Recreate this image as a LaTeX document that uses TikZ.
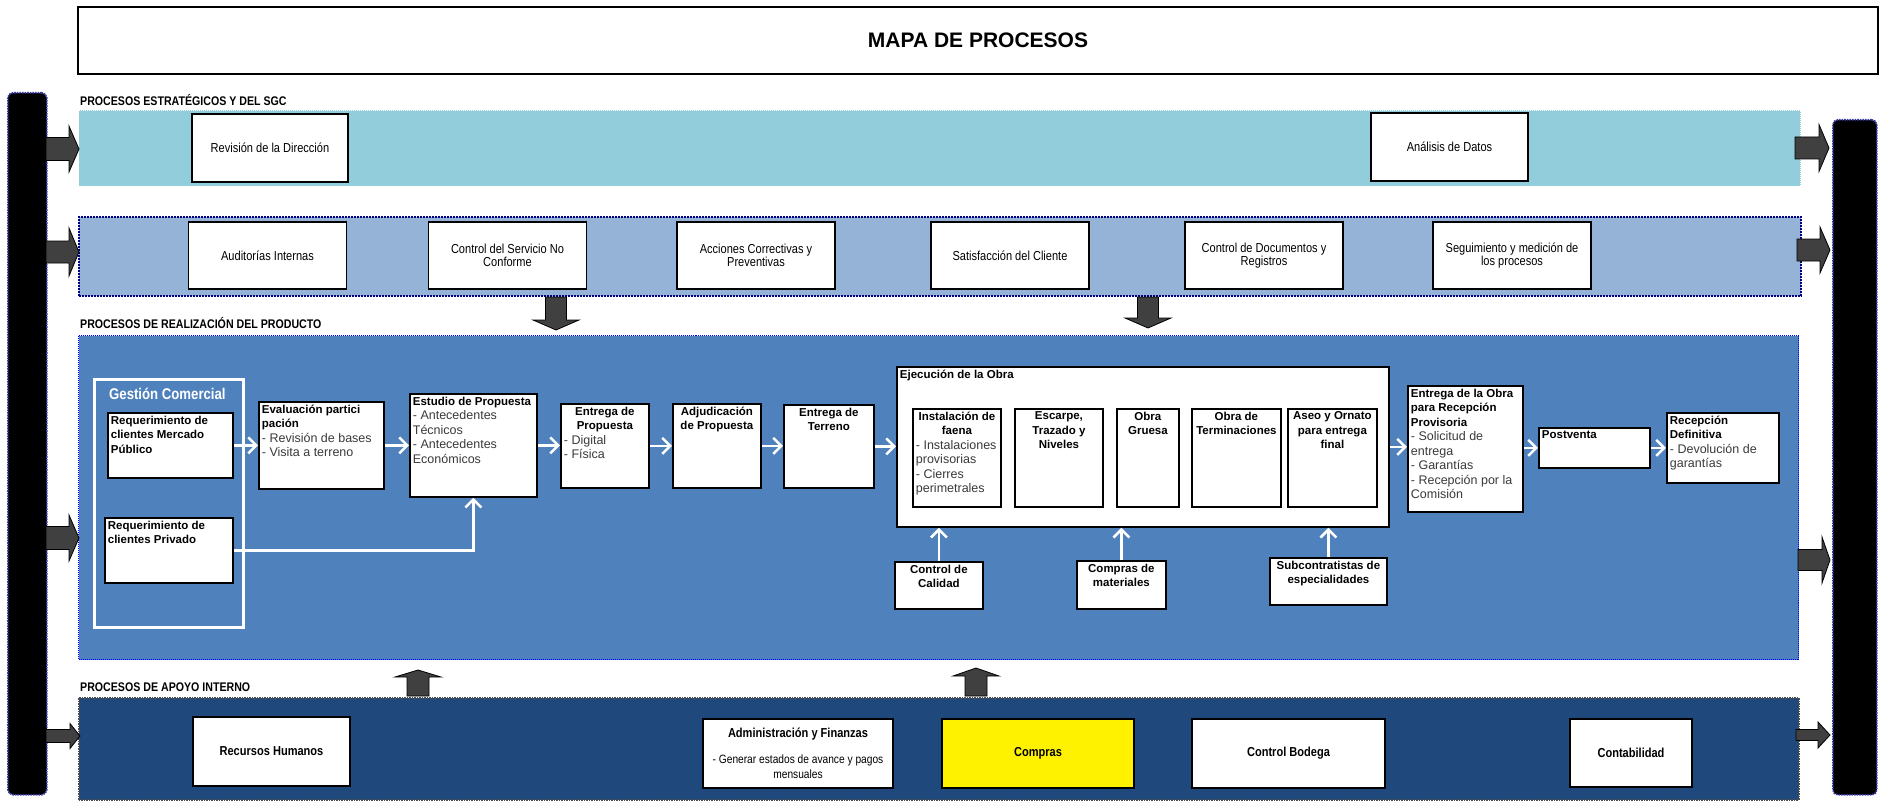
\documentclass[tikz,border=0pt]{standalone}
\usepackage{fontspec}
\setmainfont{Liberation Sans}
\newfontfamily\narrowfont{Liberation Sans}[FakeStretch=0.85]
\usetikzlibrary{arrows.meta,positioning,calc}

\definecolor{bandStrat}{HTML}{92CDDC}
\definecolor{bandSgc}{HTML}{95B3D7}
\definecolor{bandReal}{HTML}{4F81BD}
\definecolor{bandApoyo}{HTML}{1F497D}
\definecolor{arrowGray}{HTML}{404040}
\definecolor{bodyGray}{HTML}{3A3A3A}
\definecolor{barEdge}{HTML}{3C3CA8}

\newcommand{\setfs}[2]{\fontsize{#1}{#2}\selectfont}
% text of a flow box, set from its top (#1 = box width, #2 = box height)
\newcommand{\flowtext}[3]{\parbox[t][\dimexpr#2pt-6pt\relax][t]{\dimexpr#1pt-6pt\relax}{\raggedright#3}}
\newcommand{\ctitle}[1]{{\centering\bfseries\setfs{11.5}{14.5}#1\par}}
\newcommand{\ltitle}[1]{{\bfseries\setfs{11.5}{14.5}#1\par}}
\newcommand{\flowbody}[1]{{\color{bodyGray}\setfs{12.5}{14.5}#1\par}}

\begin{document}
\begin{tikzpicture}[x=1pt, y=-1pt,
    band/.style={anchor=north west, inner sep=0pt},
    bar/.style={fill=black, draw=barEdge, line width=1.6pt, densely dotted, rounded corners=5pt, anchor=north west},
    bandlabel/.style={anchor=base west, inner sep=0pt, font=\narrowfont\bfseries\setfs{12.5}{14}},
    procbox/.style={draw, fill=white, line width=1.6pt, align=center, inner sep=2pt, font=\narrowfont\setfs{13}{13.5}},
    flowbox/.style={draw, fill=white, line width=1.8pt, anchor=north west, inner sep=3pt},
    flow/.style={draw=white, line width=2.5pt, -{Straight Barb[length=8pt,width=16pt]}},
    arrowfill/.style={fill=arrowGray, draw=black, line width=0.8pt},
    pics/blockarrow/.style n args={4}{code={%
        \draw[arrowfill] (0,-#2) -- (#1-#4,-#2) -- (#1-#4,-#3) -- (#1,0) -- (#1-#4,#3) -- (#1-#4,#2) -- (0,#2) -- cycle;}}]
    \useasboundingbox (0,0) rectangle (1881,805);

    % title
    \node[draw, line width=2pt, minimum width=1800pt, minimum height=67pt, font=\bfseries\setfs{21}{24}] (Title) at (978,40.5) {MAPA DE PROCESOS};

    % side bars
    \node[bar, minimum width=39pt, minimum height=702pt] (LeftBar) at (7,92) {};
    \node[bar, minimum width=44pt, minimum height=675pt] (RightBar) at (1832,119) {};

    % bands
    \node[band, fill=bandStrat, draw=white, densely dotted, line width=1pt, minimum width=1722pt, minimum height=76pt] (Strat) at (78,110) {};
    \node[band, fill=bandSgc, draw={rgb,255:red,0;green,0;blue,128}, densely dotted, line width=2pt, minimum width=1722pt, minimum height=79pt] (Sgc) at (78,216) {};
    \node[band, fill=bandReal, draw=blue, densely dotted, line width=1pt, minimum width=1720pt, minimum height=324pt] (Real) at (78,335) {};
    \node[band, fill=bandApoyo, draw=gray!60!black, densely dotted, line width=1.5pt, minimum width=1720pt, minimum height=102pt] (Apoyo) at (78,697) {};

    \node[bandlabel] (StratLabel) at (80,106) {PROCESOS ESTRATÉGICOS Y DEL SGC};
    \node[bandlabel] (RealLabel) at (80,328) {PROCESOS DE REALIZACIÓN DEL PRODUCTO};
    \node[bandlabel] (ApoyoLabel) at (80,691) {PROCESOS DE APOYO INTERNO};

    % strategic processes
    \node[procbox, minimum width=156pt, minimum height=68pt] (Revision) at (270,148) {Revisión de la Dirección};
    \node[procbox, minimum width=157pt, minimum height=68pt] (Analisis) at (1449.5,147) {Análisis de Datos};

    % SGC processes
    \node[procbox, minimum width=158pt, minimum height=67pt] (Auditorias) at (267.5,255.5) {Auditorías Internas};
    \node[procbox, minimum width=158pt, minimum height=67pt] (NoConforme) at (507.5,255.5) {Control del Servicio No\\Conforme};
    \node[procbox, minimum width=158pt, minimum height=67pt] (Acciones) at (756,255.5) {Acciones Correctivas y\\Preventivas};
    \node[procbox, minimum width=158pt, minimum height=67pt] (Satisfaccion) at (1010,255.5) {Satisfacción del Cliente};
    \node[procbox, minimum width=158pt, minimum height=67pt] (Documentos) at (1264,255.5) {Control de Documentos y\\Registros};
    \node[procbox, minimum width=158pt, minimum height=67pt] (Seguimiento) at (1512,255.5) {Seguimiento y medición de\\los procesos};

    % block arrows: left bar -> bands, bands -> right bar, between bands
    \pic at (46,149) {blockarrow={33}{11.5}{23}{10}};
    \pic at (46,252) {blockarrow={33}{11}{24}{10}};
    \pic at (46,538) {blockarrow={33}{11.5}{23}{10}};
    \pic at (46,736) {blockarrow={34}{6.5}{12.5}{10}};
    \pic at (1795,148) {blockarrow={34}{11}{23.5}{10}};
    \pic at (1797,250) {blockarrow={33}{11}{23}{10}};
    \pic at (1798,560) {blockarrow={32}{10.5}{23}{8}};
    \pic at (1796,735) {blockarrow={34}{5.5}{13}{12}};
    \pic[rotate=-90] at (556,297) {blockarrow={33}{10.5}{23}{10}};
    \pic[rotate=-90] at (1148,297) {blockarrow={31}{10.5}{23}{10}};
    \pic[rotate=90] at (418,696) {blockarrow={26}{11}{23}{7}};
    \pic[rotate=90] at (976,696) {blockarrow={28}{11}{23}{8}};

    % product realisation
    \node[draw=white, line width=3pt, anchor=north west, minimum width=149pt, minimum height=248pt] (GestionCom) at (93,378) {};
    \node[anchor=west, text=white, inner sep=0pt, font=\narrowfont\bfseries\setfs{15.5}{17}] (GestionTitle) at (109,394) {Gestión Comercial};
    \node[flowbox] (ReqPublico) at (107,412) {\flowtext{125}{65}{\ltitle{Requerimiento de\\clientes Mercado\\Público}}};
    \node[flowbox] (ReqPrivado) at (104,517) {\flowtext{128}{65}{\ltitle{Requerimiento de\\clientes Privado}}};
    \node[flowbox] (Evaluacion) at (258,401) {\flowtext{125}{87}{\ltitle{Evaluación partici\\pación}\flowbody{- Revisión de bases\\- Visita a terreno}}};
    \node[flowbox] (Estudio) at (409,393) {\flowtext{127}{103}{\ltitle{Estudio de Propuesta}\flowbody{- Antecedentes\\Técnicos\\- Antecedentes\\Económicos}}};
    \node[flowbox] (EntregaProp) at (560,403) {\flowtext{88}{84}{\ctitle{Entrega de\\Propuesta}\flowbody{- Digital\\- Física}}};
    \node[flowbox] (Adjudicacion) at (672,403) {\flowtext{88}{84}{\ctitle{Adjudicación\\de Propuesta}}};
    \node[flowbox] (EntregaTerreno) at (783,404) {\flowtext{90}{83}{\ctitle{Entrega de\\Terreno}}};
    \node[flowbox] (Ejecucion) at (896,366) {\flowtext{492}{160}{\ltitle{Ejecución de la Obra}}};
    \node[flowbox] (Instalacion) at (912,408) {\flowtext{88}{98}{\ctitle{Instalación de\\faena}\flowbody{- Instalaciones\\provisorias\\- Cierres\\perimetrales}}};
    \node[flowbox] (Escarpe) at (1014,408) {\flowtext{88}{98}{\ctitle{Escarpe,\\Trazado y\\Niveles}}};
    \node[flowbox] (ObraGruesa) at (1116,408) {\flowtext{62}{98}{\ctitle{Obra\\Gruesa}}};
    \node[flowbox] (Terminaciones) at (1191,408) {\flowtext{89}{98}{\ctitle{Obra de\\Terminaciones}}};
    \node[flowbox] (Aseo) at (1287,408) {\flowtext{89}{98}{\ctitle{Aseo y Ornato\\para entrega\\final}}};
    \node[flowbox] (ControlCalidad) at (894,561) {\flowtext{88}{47}{\ctitle{Control de\\Calidad}}};
    \node[flowbox] (ComprasMat) at (1076,560) {\flowtext{89}{48}{\ctitle{Compras de\\materiales}}};
    \node[flowbox] (Subcontratistas) at (1269,557) {\flowtext{117}{47}{\ctitle{Subcontratistas de\\especialidades}}};
    \node[flowbox] (EntregaObra) at (1407,385) {\flowtext{115}{126}{\ltitle{Entrega de la Obra\\para Recepción\\Provisoria}\flowbody{- Solicitud de\\entrega\\- Garantías\\- Recepción por la\\Comisión}}};
    \node[flowbox] (Postventa) at (1538,427) {\flowtext{111}{40}{\ltitle{Postventa}}};
    \node[flowbox] (RecepcionDef) at (1666,412) {\flowtext{112}{70}{\ltitle{Recepción\\Definitiva}\flowbody{- Devolución de\\garantías}}};

    \draw[flow] (ReqPublico.east) -- (ReqPublico.east -| Evaluacion.west);
    \draw[flow] (Evaluacion.east) -- (Evaluacion.east -| Estudio.west);
    \draw[flow] (Estudio.east) -- (Estudio.east -| EntregaProp.west);
    \draw[flow] (EntregaProp.east) -- (EntregaProp.east -| Adjudicacion.west);
    \draw[flow] (Adjudicacion.east) -- (Adjudicacion.east -| EntregaTerreno.west);
    \draw[flow] (EntregaTerreno.east) -- (EntregaTerreno.east -| Ejecucion.west);
    \draw[flow] (Ejecucion.east) -- (Ejecucion.east -| EntregaObra.west);
    \draw[flow] (EntregaObra.east |- Postventa) -- (Postventa.west);
    \draw[flow] (Postventa.east) -- (Postventa.east -| RecepcionDef.west);
    \draw[flow] (ReqPrivado.east) -| (Estudio.south);
    \draw[flow] (ControlCalidad.north) -- (ControlCalidad.north |- Ejecucion.south);
    \draw[flow] (ComprasMat.north) -- (ComprasMat.north |- Ejecucion.south);
    \draw[flow] (Subcontratistas.north) -- (Subcontratistas.north |- Ejecucion.south);

    % support processes
    \node[procbox, minimum width=157pt, minimum height=69pt, font=\narrowfont\bfseries\setfs{13}{14}] (RRHH) at (271.5,751.5) {Recursos Humanos};
    \node[procbox, minimum width=190pt, minimum height=69pt, font=\narrowfont\setfs{12}{15}] (AdminFin) at (798,753.5) {{\bfseries\setfs{13}{15}Administración y Finanzas}\\[11pt]- Generar estados de avance y pagos\\mensuales};
    \node[procbox, fill=yellow, minimum width=192pt, minimum height=69pt, font=\narrowfont\bfseries\setfs{13}{14}] (Compras) at (1038,753.5) {Compras};
    \node[procbox, minimum width=193pt, minimum height=69pt, font=\narrowfont\bfseries\setfs{13}{14}] (Bodega) at (1288.5,753.5) {Control Bodega};
    \node[procbox, minimum width=122pt, minimum height=68pt, font=\narrowfont\bfseries\setfs{13}{14}] (Contabilidad) at (1631,753) {Contabilidad};
\end{tikzpicture}
\end{document}
